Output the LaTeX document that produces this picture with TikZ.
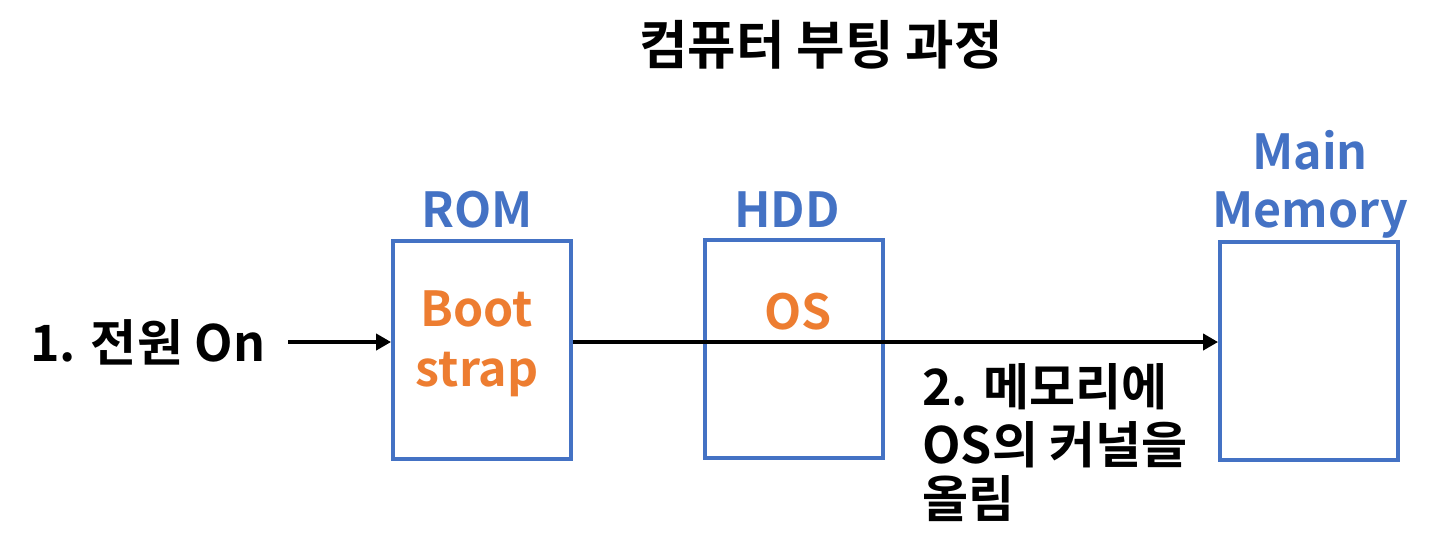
\documentclass[tikz,border=0pt]{standalone}
\usepackage{fontspec}
\setmainfont{Noto Sans CJK KR}[BoldFont={Noto Sans CJK KR Bold}]
\usetikzlibrary{arrows.meta,positioning}
\definecolor{sky}{RGB}{68,114,196}
\definecolor{tangerine}{RGB}{237,125,49}
\tikzset{
  >={Triangle[length=3mm,width=3.2mm]},
  mem box/.style={draw=sky,line width=2.2pt,minimum width=3.56cm,minimum height=4.36cm},
  head/.style={font=\fontsize{27.5}{33}\selectfont\bfseries,text=sky,align=center},
  inside/.style={font=\fontsize{27.5}{34}\selectfont\bfseries,text=tangerine,align=center},
  say/.style={font=\fontsize{28.5}{34}\selectfont\bfseries,align=left},
  flow/.style={->,line width=2.8pt},
}

\begin{document}
\begin{tikzpicture}[x=0.02cm,y=-0.02cm]
  \useasboundingbox (0,0) rectangle (1436,559);
  \node[say,font=\fontsize{30}{36}\selectfont\bfseries] (title) at (821,45) {컴퓨터 부팅 과정};
  % the three stores
  \node[mem box] (rom) at (482,350) {};
  \node[mem box] (hdd) at (794,349) {};
  \node[mem box] (mem) at (1309,351) {};
  \node[head] (romlbl) at (477,210) {ROM};
  \node[head] (hddlbl) at (787,210) {HDD};
  \node[head,text width=4cm] (memlbl) at (1310,184) {Main\\Memory};
  \node[inside] (boot) at (477,344) {Boot\\strap};
  \node[inside] (os) at (798,312) {OS};
  % steps
  \node[say,anchor=east,inner sep=0.45cm] (pwr) at (288,342) {1. 전원 On};
  \node[say,anchor=north west,inner sep=0pt] (load) at (922,363) {2. 메모리에\\[-1pt]OS의 커널을\\[-3pt]올림};
  \draw[flow] (pwr.east) -- (rom.west |- pwr);
  \draw[flow] (rom.east |- pwr) -- (mem.west |- pwr);
\end{tikzpicture}
\end{document}
